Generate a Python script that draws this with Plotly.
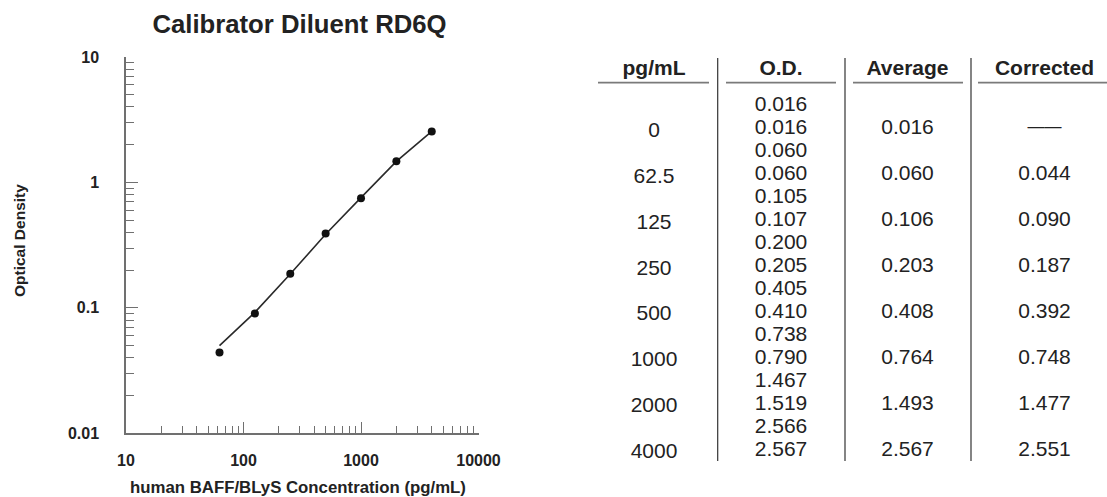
import plotly.graph_objects as go

# ---------------- data ----------------
conc = [62.5, 125, 250, 500, 1000, 2000, 4000]
corrected_od = [0.044, 0.090, 0.187, 0.392, 0.748, 1.477, 2.551]
curve_conc = [62.5, 125, 250, 500, 1000, 2000, 4000]
curve_od = [0.050, 0.092, 0.186, 0.386, 0.756, 1.470, 2.551]

table_headers = ["pg/mL", "O.D.", "Average", "Corrected"]
table_conc = ["0", "62.5", "125", "250", "500", "1000", "2000", "4000"]
table_od1 = ["0.016", "0.060", "0.105", "0.200", "0.405", "0.738", "1.467", "2.566"]
table_od2 = ["0.016", "0.060", "0.107", "0.205", "0.410", "0.790", "1.519", "2.567"]
table_avg = ["0.016", "0.060", "0.106", "0.203", "0.408", "0.764", "1.493", "2.567"]
table_corr = ["——", "0.044", "0.090", "0.187", "0.392", "0.748", "1.477", "2.551"]

x_tick_vals = [10, 100, 1000, 10000]
x_tick_text = ["10", "100", "1000", "10000"]
y_tick_vals = [0.01, 0.1, 1, 10]
y_tick_text = ["0.01", "0.1", "1", "10"]

# ---------------- layout constants (pixels) ----------------
W, H = 1107, 497
PX0, PX1 = 126, 478.5
PY0, PY1 = 57, 433.3
FONT = "Liberation Sans, Arial, Helvetica, sans-serif"
TXT = "#222222"
AXC = "#707070"

COL_X = [654, 781, 907.5, 1044.5]
HEADER_Y = 70
UNDER_Y = 82.7
UNDER_SPANS = [(598, 709), (726, 836), (853, 963), (978, 1107)]
VLINE_X = [717.7, 845, 971]
VLINE_Y = (58, 461)
ROW0_Y = 106
PITCH = 22.97

fig = go.Figure()

# curve and points
fig.add_trace(go.Scatter(x=curve_conc, y=curve_od, mode="lines",
                         line=dict(color="#2a2a2a", width=1.6),
                         hoverinfo="skip", showlegend=False))
fig.add_trace(go.Scatter(x=conc, y=corrected_od, mode="markers",
                         marker=dict(color="#111111", size=8),
                         showlegend=False))

# table cells on a pixel-space helper axis
def add_text(xs, ys, texts, bold=False, sizes=21):
    fig.add_trace(go.Scatter(
        x=xs, y=ys, text=texts, mode="text", xaxis="x2", yaxis="y2",
        textposition="middle center", cliponaxis=False,
        textfont=dict(family=FONT, size=sizes, color=TXT,
                      weight="bold" if bold else "normal"),
        hoverinfo="skip", showlegend=False))

add_text(COL_X, [HEADER_Y] * 4, table_headers, bold=True)

n = len(table_conc)
od1_y = [ROW0_Y + (2 * g) * PITCH for g in range(n)]
od2_y = [ROW0_Y + (2 * g + 1) * PITCH for g in range(n)]
add_text([COL_X[0]] * n, [y + 2.5 for y in od2_y], table_conc)
add_text([COL_X[1]] * n, od1_y, table_od1)
add_text([COL_X[1]] * n, od2_y, table_od2)
add_text([COL_X[2]] * n, od2_y, table_avg)
add_text([COL_X[3]] * n, [y - 1.5 if t == "——" else y for y, t in zip(od2_y, table_corr)],
         table_corr, sizes=[17 if t == "——" else 21 for t in table_corr])

shapes = []
for a, b in UNDER_SPANS:
    shapes.append(dict(type="line", xref="x2", yref="y2", x0=a, x1=b,
                       y0=UNDER_Y, y1=UNDER_Y, line=dict(color="#7a7a7a", width=1.8)))
for vx in VLINE_X:
    shapes.append(dict(type="line", xref="x2", yref="y2", x0=vx, x1=vx,
                       y0=VLINE_Y[0], y1=VLINE_Y[1], line=dict(color="#333333", width=1.2)))

fig.update_layout(
    width=W, height=H,
    margin=dict(l=0, r=0, t=0, b=0),
    paper_bgcolor="white", plot_bgcolor="rgba(0,0,0,0)",
    font=dict(family=FONT, color=TXT),
    showlegend=False,
    title=dict(text="<b>Calibrator Diluent RD6Q</b>", x=299.5 / W, y=1 - 24 / H,
               xanchor="center", yanchor="middle",
               font=dict(family=FONT, size=25.7, color=TXT)),
    xaxis=dict(type="log", range=[1, 4], domain=[PX0 / W, PX1 / W],
               anchor="y", showgrid=False, zeroline=False,
               showline=True, linecolor=AXC, linewidth=1.5,
               ticks="inside", ticklen=12, tickwidth=1.3, tickcolor=AXC,
               tickmode="array", tickvals=x_tick_vals, ticktext=x_tick_text,
               tickfont=dict(family=FONT, size=16, color=TXT, weight="bold"),
               ticklabelstandoff=12,
               minor=dict(ticks="inside", ticklen=8, tickwidth=1.3, tickcolor=AXC,
                          dtick="D1", showgrid=False),
               automargin=False, fixedrange=True),
    yaxis=dict(type="log", range=[-2, 1], domain=[1 - PY1 / H, 1 - PY0 / H],
               anchor="x", showgrid=False, zeroline=False,
               showline=True, linecolor=AXC, linewidth=1.5,
               ticks="inside", ticklen=12, tickwidth=1.3, tickcolor=AXC,
               tickmode="array", tickvals=y_tick_vals, ticktext=y_tick_text,
               tickfont=dict(family=FONT, size=16, color=TXT, weight="bold"),
               ticklabelstandoff=22,
               minor=dict(ticks="inside", ticklen=8, tickwidth=1.3, tickcolor=AXC,
                          dtick="D1", showgrid=False),
               automargin=False, fixedrange=True),
    xaxis2=dict(range=[0, W], domain=[0, 1], anchor="y2", visible=False, fixedrange=True),
    yaxis2=dict(range=[H, 0], domain=[0, 1], anchor="x2", visible=False, fixedrange=True),
    shapes=shapes,
    annotations=[
        dict(text="<b>human BAFF/BLyS Concentration (pg/mL)</b>", x=298 / W, y=1 - 487 / H,
             xref="paper", yref="paper", xanchor="center", yanchor="middle",
             showarrow=False, font=dict(family=FONT, size=16.8, color=TXT)),
        dict(text="<b>Optical Density</b>", x=20 / W, y=1 - 241 / H, textangle=-90,
             xref="paper", yref="paper", xanchor="center", yanchor="middle",
             showarrow=False, font=dict(family=FONT, size=15.5, color=TXT)),
    ],
)

fig.write_html("out.html")
